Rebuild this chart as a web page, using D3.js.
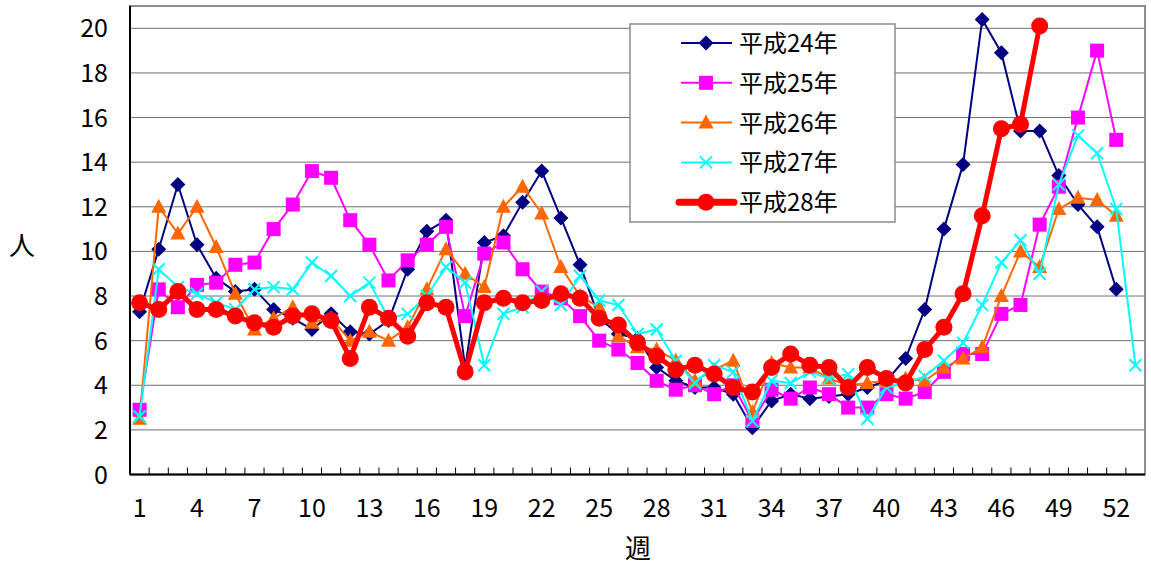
<!DOCTYPE html>
<html>
<head>
<meta charset="utf-8">
<script src="https://cdn.jsdelivr.net/npm/d3@7"></script>
<style>
  body { margin: 0; background: #fff; }
  text { font-family: "Noto Sans CJK JP", "Noto Sans", sans-serif; fill: #000; }
</style>
</head>
<body>
<script>
// 週
var weeks = [1,2,3,4,5,6,7,8,9,10,11,12,13,14,15,16,17,18,19,20,21,22,23,24,25,26,
             27,28,29,30,31,32,33,34,35,36,37,38,39,40,41,42,43,44,45,46,47,48,49,50,51,52,53];
var xTickLabels = [1,4,7,10,13,16,19,22,25,28,31,34,37,40,43,46,49,52];
var yTickLabels = [0,2,4,6,8,10,12,14,16,18,20];

var seriesNames = ["平成24年", "平成25年", "平成26年", "平成27年", "平成28年"];

var h24 = [7.3,10.1,13.0,10.3,8.8,8.2,8.3,7.4,7.0,6.5,7.2,6.4,6.3,6.9,9.2,10.9,11.4,4.8,10.4,10.7,
           12.2,13.6,11.5,9.4,7.0,6.3,6.1,4.8,4.2,3.9,3.9,3.6,2.1,3.3,3.6,3.4,3.5,3.6,3.9,4.2,
           5.2,7.4,11.0,13.9,20.4,18.9,15.4,15.4,13.4,12.1,11.1,8.3,null];
var h25 = [2.9,8.3,7.5,8.5,8.6,9.4,9.5,11.0,12.1,13.6,13.3,11.4,10.3,8.7,9.6,10.3,11.1,7.1,9.9,10.4,
           9.2,8.2,7.9,7.1,6.0,5.6,5.0,4.2,3.8,4.0,3.6,4.0,2.4,3.8,3.4,3.9,3.6,3.0,3.0,3.6,
           3.4,3.7,4.6,5.4,5.4,7.2,7.6,11.2,12.9,16.0,19.0,15.0,null];
var h26 = [2.5,12.0,10.8,12.0,10.2,8.1,6.5,7.0,7.5,6.8,7.0,6.0,6.4,6.0,6.6,8.3,10.1,9.0,8.4,12.0,
           12.9,11.7,9.3,8.0,7.5,6.2,5.7,5.6,5.1,4.2,4.7,5.1,2.8,5.0,4.8,4.8,4.3,4.0,4.1,4.2,
           4.3,4.2,4.8,5.2,5.7,8.0,10.0,9.3,11.9,12.4,12.3,11.6,null];
var h27 = [2.6,9.2,8.4,8.1,7.7,7.4,8.3,8.4,8.3,9.5,8.9,8.0,8.6,7.0,7.2,8.0,9.3,8.6,4.9,7.2,
           7.5,8.2,7.6,8.9,7.8,7.6,6.3,6.5,5.1,4.1,4.9,4.6,2.4,4.2,4.1,4.6,4.3,4.5,2.5,3.9,
           4.1,4.4,5.1,5.9,7.6,9.5,10.5,9.0,13.0,15.2,14.4,11.9,4.9];
var h28 = [7.7,7.4,8.2,7.4,7.4,7.1,6.8,6.6,7.1,7.2,6.9,5.2,7.5,7.0,6.2,7.7,7.5,4.6,7.7,7.9,
           7.7,7.8,8.1,7.9,7.0,6.7,5.9,5.3,4.7,4.9,4.5,3.9,3.7,4.8,5.4,4.9,4.8,3.9,4.8,4.3,
           4.1,5.6,6.6,8.1,11.6,15.5,15.7,20.1,null,null,null,null,null];

var allSeries = [h24, h25, h26, h27, h28];
var colors = ["#000080", "#ff00ff", "#ff6600", "#00ffff", "#ff0000"];
var markers = ["diamond", "square", "triangle", "cross", "circle"];
var lineWidths = [2, 2, 2, 2, 5];

var W = 1151, H = 564;
var plotL = 130, plotR = 1145, plotT = 6, plotB = 474.5;

var svg = d3.select("body").append("svg")
    .attr("width", W)
    .attr("height", H);

var x = d3.scaleBand().domain(weeks).range([plotL, plotR]);
var y = d3.scaleLinear().domain([0, 21]).range([plotB, plotT]);
var cx = function(w) { return x(w) + x.bandwidth() / 2; };

// grid
svg.append("g").selectAll("line")
    .data(yTickLabels.filter(function(d){ return d > 0; }))
    .join("line")
    .attr("x1", plotL).attr("x2", plotR)
    .attr("y1", function(d){ return y(d); })
    .attr("y2", function(d){ return y(d); })
    .attr("stroke", "#6e6e6e").attr("stroke-width", 1);

// frame
svg.append("rect")
    .attr("x", plotL).attr("y", plotT)
    .attr("width", plotR - plotL).attr("height", plotB - plotT)
    .attr("fill", "none").attr("stroke", "#8c8c8c").attr("stroke-width", 2);
svg.append("line").attr("x1", plotL).attr("x2", plotL).attr("y1", plotT).attr("y2", plotB)
    .attr("stroke", "#000").attr("stroke-width", 2);
svg.append("line").attr("x1", plotL).attr("x2", plotR).attr("y1", plotB).attr("y2", plotB)
    .attr("stroke", "#000").attr("stroke-width", 2);

// x tick marks (inward)
var bounds = weeks.map(function(w){ return x(w); }).concat([plotR]);
svg.append("g").selectAll("line")
    .data(bounds.slice(1, -1))
    .join("line")
    .attr("x1", function(d){ return d; }).attr("x2", function(d){ return d; })
    .attr("y1", plotB).attr("y2", plotB - 7)
    .attr("stroke", "#000").attr("stroke-width", 1);

// tick labels
svg.append("g").selectAll("text")
    .data(yTickLabels)
    .join("text")
    .attr("x", 108)
    .attr("y", function(d){ return y(d) + 9; })
    .attr("text-anchor", "end")
    .style("font-size", "25px")
    .text(function(d){ return d; });

svg.append("g").selectAll("text")
    .data(xTickLabels)
    .join("text")
    .attr("x", function(d){ return cx(d); })
    .attr("y", 517)
    .attr("text-anchor", "middle")
    .style("font-size", "25px")
    .text(function(d){ return d; });

svg.append("text").attr("x", 22).attr("y", 255).attr("text-anchor", "middle")
    .style("font-size", "26px").text("人");
svg.append("text").attr("x", 638).attr("y", 558).attr("text-anchor", "middle")
    .style("font-size", "26px").text("週");

function drawMarker(g, type, color) {
    if (type == "diamond")
        g.append("path").attr("d", "M0,-7.5L7.5,0L0,7.5L-7.5,0Z").attr("fill", color);
    else if (type == "square")
        g.append("rect").attr("x", -7).attr("y", -7).attr("width", 14).attr("height", 14).attr("fill", color);
    else if (type == "triangle")
        g.append("path").attr("d", "M0,-8L7.5,6L-7.5,6Z").attr("fill", color);
    else if (type == "cross")
        g.append("path").attr("d", "M-6,-6L6,6M-6,6L6,-6").attr("stroke", color).attr("stroke-width", 2).attr("fill", "none");
    else
        g.append("circle").attr("r", 8.5).attr("fill", color);
}

var line = d3.line()
    .defined(function(d){ return d != null; })
    .x(function(d, i){ return cx(weeks[i]); })
    .y(function(d){ return y(d); });

allSeries.forEach(function(data, k) {
    var g = svg.append("g");
    g.append("path")
        .datum(data)
        .attr("d", line)
        .attr("fill", "none")
        .attr("stroke", colors[k])
        .attr("stroke-width", lineWidths[k])
        .attr("stroke-linejoin", "round");
    data.forEach(function(v, i) {
        if (v == null) return;
        var m = g.append("g").attr("transform", "translate(" + cx(weeks[i]) + "," + y(v) + ")");
        drawMarker(m, markers[k], colors[k]);
    });
});

// legend
var lg = svg.append("g");
lg.append("rect").attr("x", 630).attr("y", 24).attr("width", 265).attr("height", 198)
    .attr("fill", "#fff").attr("stroke", "#8c8c8c").attr("stroke-width", 1.5);
seriesNames.forEach(function(name, k) {
    var ry = 43 + k * 39.8;
    lg.append("line").attr("x1", k == 4 ? 679 : 681).attr("x2", k == 4 ? 734 : 732)
        .attr("y1", ry).attr("y2", ry)
        .attr("stroke", colors[k]).attr("stroke-width", k == 4 ? 7 : 2)
        .attr("stroke-linecap", k == 4 ? "round" : "butt");
    var m = lg.append("g").attr("transform", "translate(706," + ry + ")");
    drawMarker(m, markers[k], colors[k]);
    lg.append("text").attr("x", 739).attr("y", ry + 9)
        .style("font-size", "24px").text(name);
});
</script>
</body>
</html>
